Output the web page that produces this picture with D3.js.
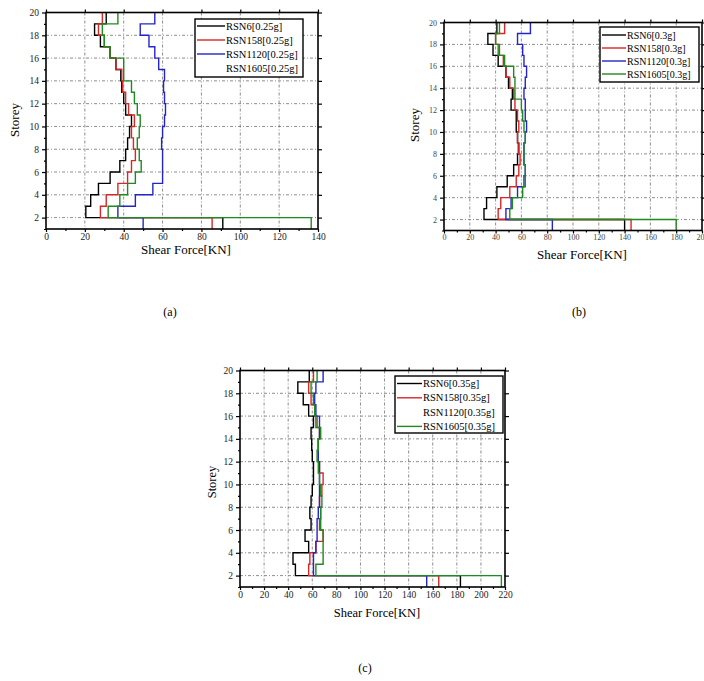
<!DOCTYPE html>
<html>
<head>
<meta charset="utf-8">
<script src="https://cdn.jsdelivr.net/npm/d3@7"></script>
<style>
  body { margin: 0; background: #fff; }
  text { font-family: "Liberation Serif", "DejaVu Serif", serif; }
</style>
</head>
<body>
<svg id="fig" width="704" height="681"></svg>
<script>
"use strict";

// each value is the storey shear, drawn as a step from storey i to i+1
const storeys = [1, 2, 3, 4, 5, 6, 7, 8, 9, 10, 11, 12, 13, 14, 15, 16, 17, 18, 19];

// (a) records scaled to 0.25g
const shearA_RSN6    = [91, 20.5, 23, 27, 33, 38, 41, 42, 43, 44, 41, 40, 39, 38.5, 36, 33, 28, 25, 31];
const shearA_RSN158  = [85.5, 28, 31, 37, 42, 44, 46, 45, 44, 45.5, 42.5, 41, 39.5, 39, 36, 33, 30, 27, 29];
const shearA_RSN1120 = [50, 37, 46, 55, 60, 60, 60, 59.5, 60, 61, 61.5, 61, 60.5, 61, 58, 56, 53, 48.5, 56];
const shearA_RSN1605 = [136.5, 32, 38, 42, 46, 49, 48, 47, 48, 48.5, 47, 45.5, 44, 40, 40, 33, 30, 29, 37];

// (b) records scaled to 0.3g
const shearB_RSN6    = [140, 31, 33, 41, 49, 54, 57, 58, 57, 56, 56, 52, 53, 50, 48, 42, 38, 34, 41];
const shearB_RSN158  = [145, 42, 44, 51, 56, 58, 59, 57.5, 57, 58, 57, 55, 54, 51, 48, 46, 43, 40, 47];
const shearB_RSN1120 = [84, 48, 52, 57, 62, 63, 62, 62, 63, 64, 63, 63, 62, 63, 64, 62, 61, 57, 67];
const shearB_RSN1605 = [180, 51, 53, 61, 63, 63, 62, 62, 63, 62, 61, 60, 55, 55, 54, 47, 42, 40, 43];

// (c) records scaled to 0.35g
const shearC_RSN6    = [183, 46, 44, 57, 54, 59, 58, 59, 60, 61, 61, 60, 59.5, 59, 61, 57, 52.5, 48, 57.5];
const shearC_RSN158  = [165, 57, 58, 63, 69, 66, 67, 66, 68, 69, 66, 65, 65, 66, 64, 62, 59, 57, 61];
const shearC_RSN1120 = [155, 61, 61, 63, 64, 64, 65, 66, 66, 66, 66, 65, 65, 66, 66, 63, 62, 63, 69];
const shearC_RSN1605 = [217, 63, 69, 69, 69, 67, 67, 68, 67, 66, 65, 64, 65, 67, 63, 62, 61, 59, 64];

const legendA = ["RSN6[0.25g]", "RSN158[0.25g]", "RSN1120[0.25g]", "RSN1605[0.25g]"];
const legendB = ["RSN6[0.3g]", "RSN158[0.3g]", "RSN1120[0.3g]", "RSN1605[0.3g]"];
const legendC = ["RSN6[0.35g]", "RSN158[0.35g]", "RSN1120[0.35g]", "RSN1605[0.35g]"];

const xTicksA = [0, 20, 40, 60, 80, 100, 120, 140];
const xTicksB = [0, 20, 40, 60, 80, 100, 120, 140, 160, 180, 200];
const xTicksC = [0, 20, 40, 60, 80, 100, 120, 140, 160, 180, 200, 220];
const yTicks = [2, 4, 6, 8, 10, 12, 14, 16, 18, 20];

const seriesColors = ["#000000", "#d92626", "#2424c8", "#1f8a1f"];

const svg = d3.select("#fig");
svg.append("rect").attr("width", 704).attr("height", 681).attr("fill", "#fff");

function drawPanel(p) {
  const g = svg.append("g");
  const x = d3.scaleLinear().domain([0, p.xMax]).range([p.left, p.right]);
  const y = d3.scaleLinear().domain([1, 20]).range([p.bottom, p.top]);

  // dotted grid
  const grid = g.append("g")
    .attr("stroke", "#707070")
    .attr("stroke-width", 0.8)
    .attr("stroke-dasharray", "3,2,1,2");
  grid.selectAll(".gx").data(p.xTicks.filter(t => t > 0 && t < p.xMax)).join("line")
    .attr("x1", d => x(d)).attr("x2", d => x(d))
    .attr("y1", p.top).attr("y2", p.bottom);
  grid.selectAll(".gy").data(yTicks.filter(t => t < 20)).join("line")
    .attr("x1", p.left).attr("x2", p.right)
    .attr("y1", d => y(d)).attr("y2", d => y(d));

  // step profiles
  const clipId = "clip" + p.id;
  svg.append("clipPath").attr("id", clipId).append("rect")
    .attr("x", p.left).attr("y", p.top)
    .attr("width", p.right - p.left).attr("height", p.bottom - p.top);
  const line = d3.line().x(d => x(d[0])).y(d => y(d[1]));
  const plot = g.append("g").attr("clip-path", "url(#" + clipId + ")");
  p.series.forEach((vals, k) => {
    const pts = [];
    vals.forEach((v, i) => {
      pts.push([v, storeys[i]]);
      pts.push([v, storeys[i] + 1]);
    });
    plot.append("path")
      .attr("d", line(pts))
      .attr("fill", "none")
      .attr("stroke", seriesColors[k])
      .attr("stroke-width", 1.4);
  });

  // axes (Origin style: mirrored ticks, minor ticks)
  const styleAxis = sel => {
    sel.select(".domain").remove();
    sel.selectAll("line").attr("stroke", "#000").attr("stroke-width", 1.2);
    sel.selectAll("text").attr("font-size", p.tickFont).attr("fill", p.tickColor);
  };
  const xMinor = d3.range(10, p.xMax, 20);
  const yMinor = d3.range(1, 20, 2);

  g.append("g").attr("transform", `translate(0,${p.bottom})`)
    .call(d3.axisBottom(x).tickValues(p.xTicks).tickSize(3).tickSizeOuter(0).tickPadding(1))
    .call(styleAxis);
  g.append("g").attr("transform", `translate(0,${p.bottom})`)
    .call(d3.axisBottom(x).tickValues(xMinor).tickSize(2).tickFormat(""))
    .call(styleAxis);
  g.append("g").attr("transform", `translate(0,${p.top})`)
    .call(d3.axisTop(x).tickValues(p.xTicks).tickSize(3).tickFormat(""))
    .call(styleAxis);
  g.append("g").attr("transform", `translate(${p.left},0)`)
    .call(d3.axisLeft(y).tickValues(yTicks).tickSize(4).tickPadding(3))
    .call(styleAxis);
  g.append("g").attr("transform", `translate(${p.left},0)`)
    .call(d3.axisLeft(y).tickValues(yMinor).tickSize(2).tickFormat(""))
    .call(styleAxis);
  g.append("g").attr("transform", `translate(${p.right},0)`)
    .call(d3.axisRight(y).tickValues(yTicks).tickSize(4).tickFormat(""))
    .call(styleAxis);

  g.append("rect")
    .attr("x", p.left).attr("y", p.top)
    .attr("width", p.right - p.left).attr("height", p.bottom - p.top)
    .attr("fill", "none").attr("stroke", "#000").attr("stroke-width", 1.6);

  // legend
  const lg = g.append("g").attr("transform", `translate(${p.legend.x},${p.legend.y})`);
  lg.append("rect")
    .attr("width", p.legend.w).attr("height", p.legend.h)
    .attr("fill", "#fff").attr("stroke", "#000").attr("stroke-width", 1.4);
  p.labels.forEach((lab, k) => {
    const ry = p.legend.first + k * p.legend.gap;
    if (p.legend.noLine !== k) {
      lg.append("line")
        .attr("x1", 2).attr("x2", p.legend.lineLen)
        .attr("y1", ry).attr("y2", ry)
        .attr("stroke", seriesColors[k]).attr("stroke-width", 1.4);
    }
    lg.append("text")
      .attr("x", p.legend.lineLen + 1).attr("y", ry)
      .attr("dy", "0.35em")
      .attr("font-size", p.legend.font)
      .text(lab);
  });

  // titles
  g.append("text")
    .attr("x", p.xTitle[0]).attr("y", p.xTitle[1]).attr("dy", "0.35em")
    .attr("text-anchor", "middle").attr("font-size", p.titleFont)
    .text("Shear Force[KN]");
  g.append("text")
    .attr("transform", `translate(${p.yTitle[0]},${p.yTitle[1]}) rotate(-90)`)
    .attr("dy", "0.35em")
    .attr("text-anchor", "middle").attr("font-size", p.titleFont)
    .text("Storey");
  g.append("text")
    .attr("x", p.caption[0]).attr("y", p.caption[1]).attr("dy", "0.35em")
    .attr("text-anchor", "middle").attr("font-size", 12)
    .text(p.caption[2]);
}

drawPanel({
  id: "a", left: 46, right: 318, top: 12.5, bottom: 229, xMax: 140,
  xTicks: xTicksA, tickFont: 9.5, tickColor: "#222", titleFont: 13,
  series: [shearA_RSN6, shearA_RSN158, shearA_RSN1120, shearA_RSN1605],
  labels: legendA,
  legend: { x: 195, y: 19, w: 108, h: 58, first: 7, gap: 14, lineLen: 30, font: 10.5, noLine: 3 },
  xTitle: [186, 249], yTitle: [14, 120], caption: [170, 312, "(a)"]
});

drawPanel({
  id: "b", left: 444, right: 702, top: 22.5, bottom: 230.5, xMax: 200,
  xTicks: xTicksB, tickFont: 8, tickColor: "#444", titleFont: 13,
  series: [shearB_RSN6, shearB_RSN158, shearB_RSN1120, shearB_RSN1605],
  labels: legendB,
  legend: { x: 600, y: 27, w: 99, h: 55, first: 8, gap: 13, lineLen: 26, font: 10, noLine: -1 },
  xTitle: [582, 254], yTitle: [414, 125], caption: [579, 312, "(b)"]
});

drawPanel({
  id: "c", left: 240, right: 505, top: 370.5, bottom: 587, xMax: 220,
  xTicks: xTicksC, tickFont: 9.5, tickColor: "#222", titleFont: 12.5,
  series: [shearC_RSN6, shearC_RSN158, shearC_RSN1120, shearC_RSN1605],
  labels: legendC,
  legend: { x: 395, y: 376, w: 108, h: 57, first: 7.5, gap: 14.3, lineLen: 27, font: 10.5, noLine: 2 },
  xTitle: [377, 613], yTitle: [212, 482], caption: [365, 668, "(c)"]
});
</script>
</body>
</html>
